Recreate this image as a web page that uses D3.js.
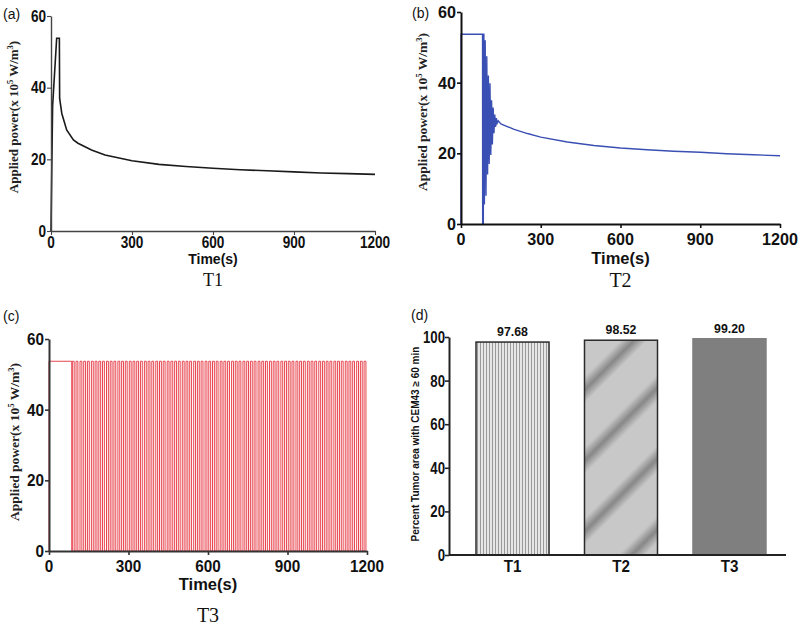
<!DOCTYPE html>
<html><head><meta charset="utf-8">
<script src="https://cdn.jsdelivr.net/npm/d3@7"></script>
<style>body{margin:0;background:#fff}</style>
</head><body><svg id="c" width="800" height="626"></svg>
<script>
// ---------- data ----------
const xTicks = [0, 300, 600, 900, 1200];
const yTicksPower = [0, 20, 40, 60];
const t1Time  = [0, 3, 6, 21, 31, 32, 40, 58, 83, 100, 150, 200, 300, 400, 500, 600, 700, 800, 900, 1000, 1100, 1200];
const t1Power = [0, 18, 35, 53.8, 53.8, 37, 32.8, 28.2, 25.4, 24.5, 22.6, 21.2, 19.6, 18.6, 18, 17.5, 17.1, 16.8, 16.5, 16.2, 16, 15.8];
const t2Time  = [0, 0.5, 81, 81.5, 84, 84.5, 86, 88, 91, 94, 97, 100, 103, 106, 109, 112, 115, 118, 121, 124, 127, 130, 133, 136, 140, 150, 200, 250, 300, 400, 500, 600, 700, 800, 900, 1000, 1100, 1200];
const t2Power = [0, 53.7, 53.7, 0, 0, 53.7, 53.7, 5.5, 52, 8, 47.5, 14, 42, 17, 39.8, 19.5, 35, 22.5, 33, 25.7, 31, 27.5, 30, 28.5, 29.2, 28.3, 26.8, 25.6, 24.6, 23.2, 22.2, 21.5, 21, 20.6, 20.3, 19.9, 19.6, 19.3];
const t3Level = 53.7;
const t3Rise = [0, 88,102,117,131,145,160,174,188,202,217,231,245,260,274,288,303,317,331,345,360,374,388,403,417,431,446,460,474,488,503,517,531,546,560,574,589,603,617,631,646,660,674,689,703,717,732,746,760,774,789,803,817,832,846,860,875,889,903,917,932,946,960,975,989,1003,1018,1032,1046,1060,1075,1089,1103,1118,1132,1146,1161,1175,1189];
const t3Fall = [86, 95,109,124,138,152,167,181,195,209,224,238,252,267,281,295,310,324,338,352,367,381,395,410,424,438,453,467,481,495,510,524,538,553,567,581,596,610,624,638,653,667,681,696,710,724,739,753,767,781,796,810,824,839,853,867,882,896,910,924,939,953,967,982,996,1010,1025,1039,1053,1067,1082,1096,1110,1125,1139,1153,1168,1182,1196];
const categories = ["T1", "T2", "T3"];
const percent = [97.68, 98.52, 99.20];
const yTicksPct = [0, 20, 40, 60, 80, 100];

// ---------- drawing ----------
const svg = d3.select("#c");
const SANS = "'Liberation Sans', Arial, sans-serif";
const SERIF = "'Liberation Serif', 'Times New Roman', serif";

const defs = svg.append("defs");
// T1 vertical stripes
const p1 = defs.append("pattern").attr("id", "vstripe").attr("patternUnits", "userSpaceOnUse")
  .attr("width", 3).attr("height", 10);
p1.append("rect").attr("width", 3).attr("height", 10).attr("fill", "#e6e6e6");
p1.append("rect").attr("x", 0).attr("width", 1).attr("height", 10).attr("fill", "#9a9a9a");
// T2 diagonal blurred bands
const g2 = defs.append("linearGradient").attr("id", "bandGrad").attr("x1", 0).attr("x2", 1).attr("y1", 0).attr("y2", 0);
[[0, "#c8c8c8"], [0.25, "#c8c8c8"], [0.5, "#878787"], [0.75, "#c8c8c8"], [1, "#c8c8c8"]]
  .forEach(([o, c]) => g2.append("stop").attr("offset", o).attr("stop-color", c));
const p2 = defs.append("pattern").attr("id", "diag").attr("patternUnits", "userSpaceOnUse")
  .attr("width", 50).attr("height", 10).attr("patternTransform", "translate(0,20) rotate(45)");
p2.append("rect").attr("width", 50).attr("height", 10).attr("fill", "#c8c8c8");
p2.append("rect").attr("x", 6).attr("width", 38).attr("height", 10).attr("fill", "url(#bandGrad)");

function txt(g, x, y, s, opts) {
  return g.append("text")
    .attr("transform", `translate(${x},${y}) scale(${opts.sx || 1},1)`)
    .attr("text-anchor", opts.anchor || "middle")
    .attr("font-family", opts.family || SANS)
    .attr("font-weight", opts.weight || "bold")
    .attr("font-size", opts.size)
    .attr("fill", opts.fill || "#111")
    .text(s);
}

function yLabelPower(g, x, y, size) {
  const t = g.append("text")
    .attr("transform", `translate(${x},${y}) rotate(-90)`)
    .attr("text-anchor", "middle")
    .attr("font-family", SERIF).attr("font-weight", "bold").attr("font-size", size).attr("fill", "#222");
  t.append("tspan").text("Applied power(x 10");
  t.append("tspan").attr("baseline-shift", "super").attr("font-size", size * 0.65).text("5");
  t.append("tspan").text(" W/m");
  t.append("tspan").attr("baseline-shift", "super").attr("font-size", size * 0.65).text("3");
  t.append("tspan").text(")");
}

function linePanel(cfg) {
  const g = svg.append("g");
  const x = d3.scaleLinear().domain([0, 1200]).range([cfg.left, cfg.right]);
  const y = d3.scaleLinear().domain([0, 60]).range([cfg.bottom, cfg.top]);
  const line = d3.line().x(d => x(d[0])).y(d => y(d[1]));
  g.append("path").datum(cfg.points).attr("d", line)
    .attr("fill", "none").attr("stroke", cfg.color).attr("stroke-width", cfg.sw).attr("stroke-linejoin", "miter");
  const ax = g.append("g").attr("transform", `translate(0,${cfg.bottom})`)
    .call(d3.axisBottom(x).tickValues(xTicks).tickSize(4).tickSizeOuter(0).tickFormat(""));
  const ay = g.append("g").attr("transform", `translate(${cfg.left},0)`)
    .call(d3.axisLeft(y).tickValues(yTicksPower).tickSize(4).tickSizeOuter(0).tickFormat(""));
  [ax, ay].forEach(a => {
    a.select(".domain").attr("stroke", cfg.axisColor).attr("stroke-width", cfg.aw);
    a.selectAll(".tick line").attr("stroke", cfg.axisColor).attr("stroke-width", cfg.aw * 0.8);
  });
  xTicks.forEach(v => txt(g, x(v), cfg.xLabY, String(v), { size: cfg.tfs, sx: cfg.tsx }));
  yTicksPower.forEach(v => txt(g, cfg.left - 5, y(v) + cfg.tfs * 0.36, String(v), { size: cfg.tfs, sx: cfg.tsx, anchor: "end" }));
  txt(g, (cfg.left + cfg.right) / 2, cfg.timeY, "Time(s)", { size: cfg.timeFs });
  txt(g, (cfg.left + cfg.right) / 2 + cfg.nameDx, cfg.nameY, cfg.name, { size: cfg.nameFs, family: SERIF, weight: "normal" });
  yLabelPower(g, cfg.ylx, cfg.yly, cfg.ylfs);
  txt(g, cfg.tagX, cfg.tagY, cfg.tag, { size: 14, weight: "normal", anchor: "start" });
}

linePanel({
  points: t1Time.map((t, i) => [t, t1Power[i]]),
  left: 51, right: 375, top: 16, bottom: 231, color: "#1a1a1a", sw: 1.6, axisColor: "#444", aw: 1.4,
  tfs: 16, tsx: 0.85, xLabY: 248, timeY: 264, timeFs: 14, name: "T1", nameY: 286, nameFs: 18, nameDx: 0,
  ylx: 18, yly: 117, ylfs: 13, tag: "(a)", tagX: 3, tagY: 19
});
linePanel({
  points: t2Time.map((t, i) => [t, t2Power[i]]),
  left: 461, right: 780, top: 12, bottom: 224, color: "#3a4fb3", sw: 1.4, axisColor: "#111", aw: 2,
  tfs: 17, tsx: 0.95, xLabY: 245, timeY: 264, timeFs: 16.5, name: "T2", nameY: 287, nameFs: 20, nameDx: 0,
  ylx: 427, yly: 112, ylfs: 13.5, tag: "(b)", tagX: 412, tagY: 18
});
const t3Points = [];
t3Rise.forEach((r, i) => {
  t3Points.push([r, 0], [r, t3Level], [t3Fall[i], t3Level], [t3Fall[i], 0]);
});
linePanel({
  points: t3Points,
  left: 49, right: 367, top: 339, bottom: 551, color: "#e8454f", sw: 1, axisColor: "#333", aw: 2,
  tfs: 17, tsx: 0.9, xLabY: 572, timeY: 590, timeFs: 16.5, name: "T3", nameY: 622, nameFs: 20, nameDx: 0,
  ylx: 19, yly: 442, ylfs: 13.5, tag: "(c)", tagX: 3, tagY: 321
});

// ---------- panel (d) ----------
(function () {
  const g = svg.append("g");
  const left = 449, bottom = 555, top = 337;
  const x = d3.scaleBand().domain(categories).range([449, 793]).paddingInner(0.327).paddingOuter(0.249);
  const y = d3.scaleLinear().domain([0, 100]).range([bottom, top]);
  const fills = ["url(#vstripe)", "url(#diag)", "#7f7f7f"];
  const strokes = ["#2a2a2a", "#2a2a2a", "#7f7f7f"];
  g.selectAll("rect.bar").data(categories).join("rect")
    .attr("x", d => x(d)).attr("y", (d, i) => y(percent[i]))
    .attr("width", x.bandwidth()).attr("height", (d, i) => bottom - y(percent[i]))
    .attr("fill", (d, i) => fills[i]).attr("stroke", (d, i) => strokes[i]).attr("stroke-width", 1.5);
  categories.forEach((c, i) => {
    txt(g, x(c) + x.bandwidth() / 2, y(percent[i]) - 6, percent[i].toFixed(2), { size: 13, sx: 0.95 });
    txt(g, x(c) + x.bandwidth() / 2, 572, c, { size: 16, sx: 0.95 });
  });
  const ay = g.append("g").attr("transform", `translate(${left},0)`)
    .call(d3.axisLeft(y).tickValues(yTicksPct).tickSize(4).tickSizeOuter(0).tickFormat(""));
  ay.select(".domain").attr("stroke", "#222").attr("stroke-width", 2);
  ay.selectAll(".tick line").attr("stroke", "#222").attr("stroke-width", 1.6);
  g.append("line").attr("x1", left).attr("x2", 786).attr("y1", bottom).attr("y2", bottom)
    .attr("stroke", "#222").attr("stroke-width", 2);
  yTicksPct.forEach(v => txt(g, left - 4, y(v) + 6, String(v), { size: 16.5, sx: 0.8, anchor: "end" }));
  g.append("text").attr("transform", `translate(${419},${444}) rotate(-90)`)
    .attr("text-anchor", "middle").attr("font-family", SANS).attr("font-weight", "bold")
    .attr("font-size", 10).attr("fill", "#111").text("Percent Tumor area with CEM43 \u2265 60 min");
  txt(g, 411, 320, "(d)", { size: 14, weight: "normal", anchor: "start" });
})();
</script>
</body></html>
